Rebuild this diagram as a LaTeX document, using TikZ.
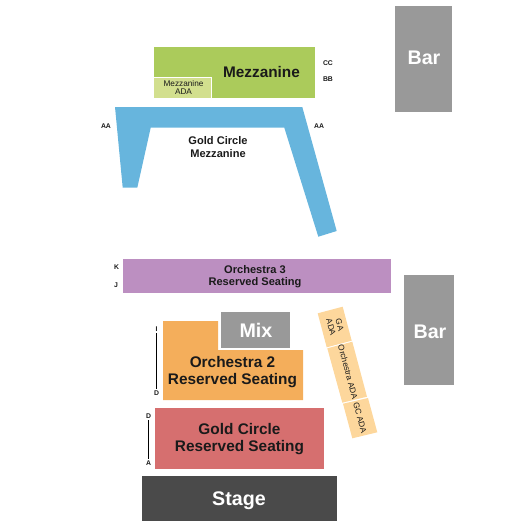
\documentclass[tikz,border=0pt]{standalone}
\usepackage{fontspec}
\setmainfont{Liberation Sans}
\usepackage{xcolor}
\definecolor{mezzgreen}{HTML}{ABCB5B}
\definecolor{adagreen}{HTML}{D2DF8E}
\definecolor{goldblue}{HTML}{67B5DD}
\definecolor{orchpurple}{HTML}{BC8FC1}
\definecolor{orchorange}{HTML}{F4AE5B}
\definecolor{goldred}{HTML}{D66F6F}
\definecolor{adapeach}{HTML}{FDD79C}
\definecolor{mixgray}{HTML}{999999}
\definecolor{stagegray}{HTML}{4A4A4A}
\definecolor{inktext}{HTML}{1A1A1A}

\begin{document}
\begin{tikzpicture}[
    x=0.02cm, y=-0.02cm,
    sect/.style={align=center, inner sep=0pt, text=inktext, font=\fontsize{8.75}{9.7}\selectfont\bfseries},
    small/.style={align=center, inner sep=0pt, text=inktext, font=\fontsize{6.3}{7.1}\selectfont\bfseries},
    adatext/.style={align=center, inner sep=0pt, text=inktext, font=\fontsize{4.7}{5.1}\selectfont},
    venue/.style={align=center, inner sep=0pt, text=white, font=\fontsize{11.2}{12}\selectfont\bfseries},
    row/.style={inner sep=0pt, text=inktext, font=\fontsize{3.9}{4}\selectfont\bfseries},
    rowline/.style={black, line width=0.6pt, shorten >=0.8pt, shorten <=0.8pt},
  ]
  \useasboundingbox (0,0) rectangle (525,525);

  % Mezzanine
  \fill[mezzgreen] (154,47) rectangle (315,98);
  \fill[adagreen] (154,77.5) rectangle (211.5,98);
  \draw[white, line width=0.5pt] (154,77.5) -- (211.5,77.5) -- (211.5,98);
  \node[sect] (mezz) at (261.5,71.5) {Mezzanine};
  \node[adatext] (mezzada) at (183.5,87.5) {Mezzanine\\ADA};
  \node[row] (cc) at (328,63) {CC};
  \node[row] (bb) at (328,79.5) {BB};

  % Gold Circle Mezzanine
  \fill[goldblue] (115,107) -- (302.3,107) -- (336.7,231) -- (318.3,236.7)
    -- (284.3,127.7) -- (150.7,127.7) -- (137.3,187.7) -- (122.7,187.7) -- cycle;
  \node[small] (goldmezz) at (218,147) {Gold Circle\\Mezzanine};
  \node[row] (aaleft) at (106,126.5) {AA};
  \node[row] (aaright) at (319,126.5) {AA};

  % Orchestra 3
  \fill[orchpurple] (123,259) rectangle (391,293);
  \node[small] (orch3) at (255,276.5) {Orchestra 3\\Reserved Seating};
  \node[row] (rowk) at (116.5,267.5) {K};
  \node[row] (rowj) at (116,285) {J};

  % Orchestra 2 + Mix
  \fill[orchorange] (163,321) -- (218,321) -- (218,350) -- (303,350) -- (303,400) -- (163,400) -- cycle;
  \fill[mixgray] (221,312) rectangle (290,348);
  \node[venue] (mix) at (256,330) {Mix};
  \node[sect] (orch2) at (232.5,372.5) {Orchestra 2\\Reserved Seating};
  \node[row] (rowi) at (156.5,329) {I};
  \node[row] (rowd) at (156.5,393) {D};
  \draw[rowline] (rowi) -- (rowd);

  % Gold Circle
  \fill[goldred] (155,408) rectangle (324,469);
  \node[sect] (goldres) at (239.5,439.5) {Gold Circle\\Reserved Seating};
  \node[row] (rowdd) at (148.7,416) {D};
  \node[row] (rowa) at (148.7,463) {A};
  \draw[rowline] (rowdd) -- (rowa);

  % ADA strip
  \fill[adapeach] (317.7,313.3) -- (342.7,306.7) -- (351.7,340.7) -- (326.7,347.3) -- cycle;
  \fill[adapeach] (327.3,348.3) -- (352.3,341.7) -- (367,396.7) -- (342.3,402.7) -- cycle;
  \fill[adapeach] (343,403.7) -- (368,398) -- (377.3,432.3) -- (352.3,438.3) -- cycle;
  \node[adatext, rotate=-75] (gaada) at (335.5,326) {GA\\ADA};
  \node[adatext, rotate=-75] (orchada) at (348,372) {Orchestra ADA};
  \node[adatext, rotate=-75] (gcada) at (360,418) {GC ADA};

  % Stage and bars
  \fill[stagegray] (142,476) rectangle (337,521);
  \node[venue] (stage) at (239,501) {Stage};
  \fill[mixgray] (395,6) rectangle (452,112);
  \node[venue] (bartop) at (424,58) {Bar};
  \fill[mixgray] (404,275) rectangle (454,385);
  \node[venue] (barlow) at (430,332) {Bar};
\end{tikzpicture}
\end{document}
